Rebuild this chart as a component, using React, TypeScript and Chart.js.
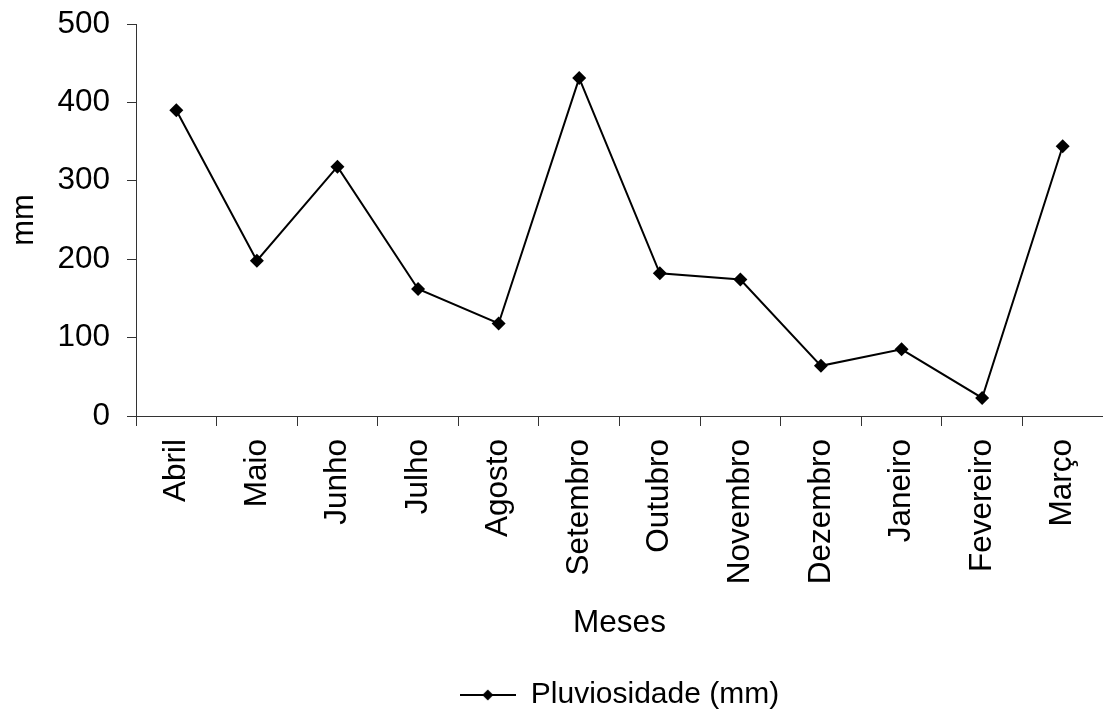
import React, { useEffect, useRef } from "react";
import { Chart, registerables } from "chart.js";

Chart.register(...registerables);

// Monthly rainfall, April through March
const months = [
  "Abril",
  "Maio",
  "Junho",
  "Julho",
  "Agosto",
  "Setembro",
  "Outubro",
  "Novembro",
  "Dezembro",
  "Janeiro",
  "Fevereiro",
  "Março",
];
const rainfall = [390, 198, 318, 162, 118, 431, 182, 174, 64, 85, 23, 344];
const yTicks = [0, 100, 200, 300, 400, 500];

const seriesLabel = "Pluviosidade (mm)";
const xTitle = "Meses";
const yTitle = "mm";

const FONT = "'Liberation Sans', Arial, Helvetica, sans-serif";
const AXIS = "#333333";
const TICK_SIZE = 31.5;

// Legend symbol: a short line with a diamond in the middle
function makeLegendSymbol(): HTMLCanvasElement {
  const c = document.createElement("canvas");
  c.width = 56;
  c.height = 14;
  const g = c.getContext("2d")!;
  g.strokeStyle = "#000";
  g.lineWidth = 2;
  g.beginPath();
  g.moveTo(0, 7);
  g.lineTo(56, 7);
  g.stroke();
  g.fillStyle = "#000";
  g.beginPath();
  g.moveTo(28, 1.5);
  g.lineTo(33.5, 7);
  g.lineTo(28, 12.5);
  g.lineTo(22.5, 7);
  g.closePath();
  g.fill();
  return c;
}

// Keep the scales from reserving extra room for half-labels at their ends
function noEndPadding(scale: any) {
  scale.paddingTop = 0;
  scale.paddingBottom = 0;
  scale.paddingLeft = 0;
  scale.paddingRight = 0;
}

export default function App() {
  const ref = useRef<HTMLCanvasElement | null>(null);

  useEffect(() => {
    document.body.style.margin = "0";
    const canvas = ref.current;
    if (!canvas) return;
    const symbol = makeLegendSymbol();

    const chart = new Chart(canvas, {
      type: "line",
      data: {
        labels: months,
        datasets: [
          {
            label: seriesLabel,
            data: rainfall,
            borderColor: "#000",
            backgroundColor: "#000",
            borderWidth: 2,
            pointStyle: "rectRot",
            pointRadius: 7,
            pointBackgroundColor: "#000",
            pointBorderColor: "#000",
            pointBorderWidth: 0,
            tension: 0,
            fill: false,
            clip: false,
          },
        ],
      },
      options: {
        responsive: false,
        animation: false,
        devicePixelRatio: 1,
        layout: {
          autoPadding: false,
          padding: { top: 24, right: 0, bottom: 0, left: 0 },
        },
        plugins: {
          tooltip: { enabled: false },
          legend: {
            position: "bottom",
            fullSize: false,
            labels: {
              usePointStyle: true,
              pointStyle: symbol as any,
              pointStyleWidth: 56,
              padding: 6,
              color: "#000",
              font: { family: FONT, size: 30 },
            },
          },
        },
        scales: {
          x: {
            type: "category",
            offset: true,
            grid: {
              offset: true,
              drawOnChartArea: false,
              drawTicks: true,
              tickLength: 10,
              color: AXIS,
              lineWidth: 1,
            },
            border: { display: true, color: AXIS, width: 1 },
            ticks: {
              autoSkip: false,
              maxRotation: 90,
              minRotation: 90,
              padding: 13,
              color: "#000",
              font: { family: FONT, size: TICK_SIZE },
            },
            title: {
              display: true,
              text: xTitle,
              color: "#000",
              font: { family: FONT, size: TICK_SIZE },
              padding: { top: 0, bottom: 32 },
            },
            afterFit: (scale: any) => {
              noEndPadding(scale);
              scale.height = 258;
            },
          },
          y: {
            type: "linear",
            min: 0,
            max: 500,
            afterBuildTicks: (scale: any) => {
              scale.ticks = yTicks.map((v) => ({ value: v }));
            },
            grid: {
              drawOnChartArea: false,
              drawTicks: true,
              tickLength: 9,
              color: AXIS,
              lineWidth: 1,
            },
            border: { display: true, color: AXIS, width: 1 },
            ticks: {
              padding: 17,
              color: "#000",
              font: { family: FONT, size: TICK_SIZE },
            },
            title: {
              display: true,
              text: yTitle,
              color: "#000",
              font: { family: FONT, size: 31 },
              padding: { top: 6, bottom: 0 },
            },
            afterFit: (scale: any) => {
              noEndPadding(scale);
              scale.width = 136;
            },
          },
        },
      },
    });

    return () => chart.destroy();
  }, []);

  return (
    <div style={{ width: 1103, height: 720, background: "#fff" }}>
      <canvas ref={ref} width={1103} height={720} />
    </div>
  );
}
